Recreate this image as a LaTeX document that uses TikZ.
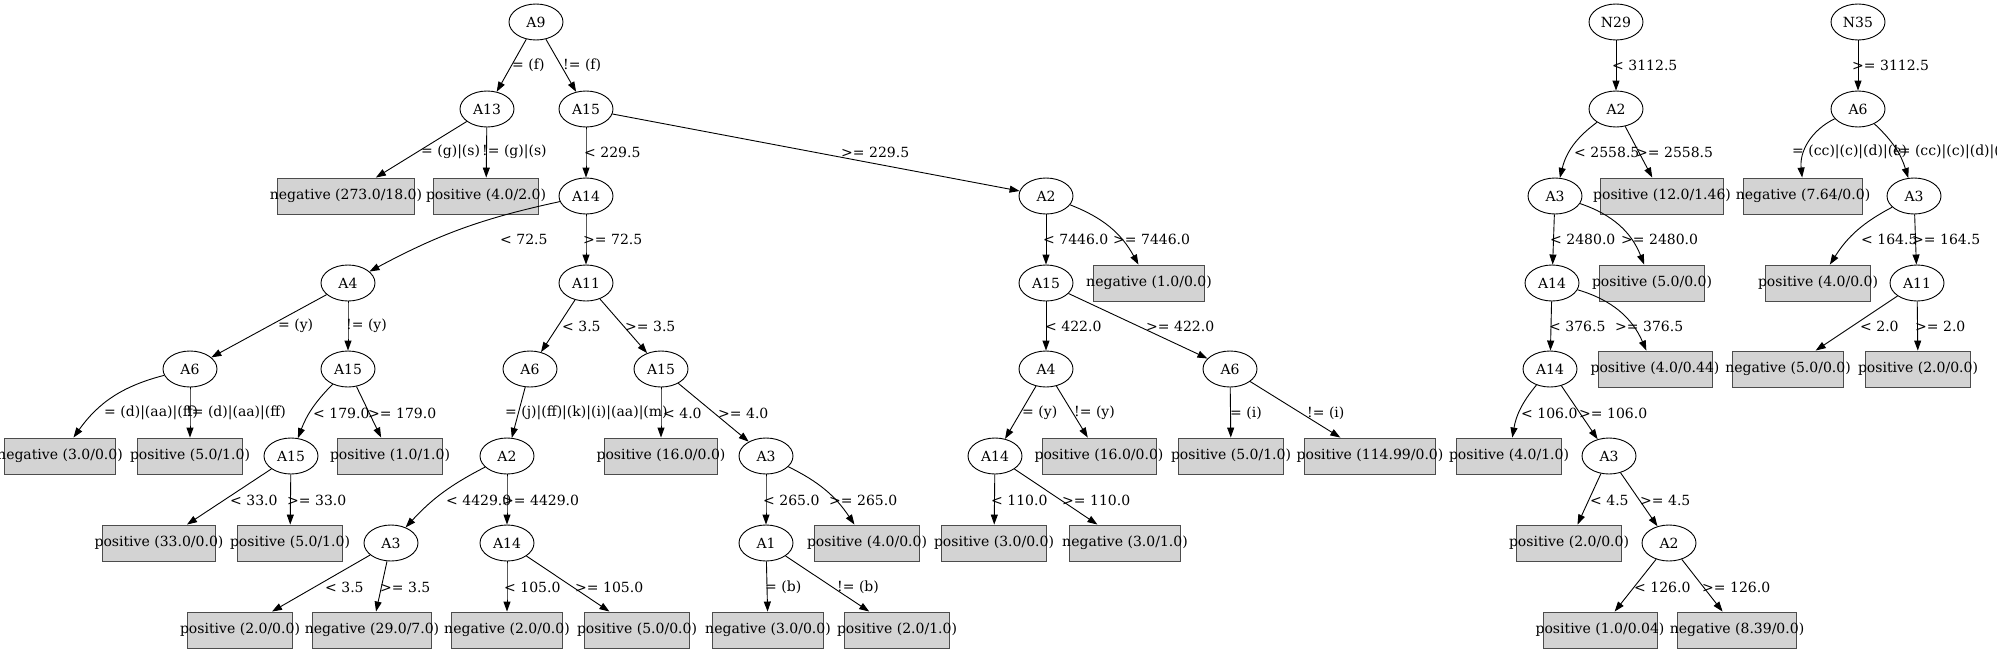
\documentclass[tikz,border=0pt]{standalone}
\usepackage{fontspec}
\setmainfont{DejaVu Serif}
\usetikzlibrary{shapes.geometric,arrows.meta}
\definecolor{lgray}{HTML}{D3D3D3}

\begin{document}
\begin{tikzpicture}[x=1pt,y=-1pt,font=\fontsize{14}{17}\selectfont,
  attr/.style={ellipse,draw,line width=0.9pt,fill=white,minimum width=54pt,minimum height=36pt,inner sep=0pt},
  leaf/.style={rectangle,draw=black!70,line width=0.9pt,fill=lgray,minimum height=36pt,inner ysep=0pt,inner xsep=-7.5pt},
  cond/.style={anchor=west,inner sep=0pt},
  edge/.style={line width=0.9pt,-{Triangle[length=10pt,width=7pt]}}]

  \useasboundingbox (0,0) rectangle (1997,653);
  \clip (0,0) rectangle (1997,653);

  %% Attribute tests
  \foreach \n/\x/\y/\txt in {
    a9/536/22/A9, a13/487/109/A13, a15/586/109/A15,
    a14/586/196/A14, b2/1046/196/A2,
    a4/348/283/A4, a11/586/283/A11, b15/1046/283/A15,
    c6/190/369/A6, c15/348/369/A15, d6/530/369/A6, d15/661/369/A15, e4/1046/369/A4, e6/1230/369/A6,
    f15/291/456/A15, f2/507/456/A2, f3/766/456/A3, g14/995/456/A14,
    h3/391/543/A3, h14/507/543/A14, h1/766/543/A1,
    n29/1616/22/N29, p2/1616/109/A2, p3/1555/196/A3, p14/1552/283/A14,
    q14/1550/369/A14, q3/1609/456/A3, q2/1669/543/A2,
    n35/1858/22/N35, s6/1858/109/A6, s3/1914/196/A3, s11/1917/283/A11}
  {
    \node[attr] (\n) at (\x,\y) {\txt};
  }

  %% Leaves
  \foreach \n/\x/\y/\txt in {
    l1/346/196/{negative (273.0/18.0)}, l2/486/196/{positive (4.0/2.0)},
    l22/1662/196/{positive (12.0/1.46)}, l29/1803/196/{negative (7.64/0.0)},
    l3/1149/283/{negative (1.0/0.0)}, l23/1652/283/{positive (5.0/0.0)}, l30/1818/283/{positive (4.0/0.0)},
    l24/1655/369/{positive (4.0/0.44)}, l31/1788/369/{negative (5.0/0.0)}, l32/1918/369/{positive (2.0/0.0)},
    l4/60/456/{negative (3.0/0.0)}, l5/190/456/{positive (5.0/1.0)}, l6/390/456/{positive (1.0/1.0)},
    l7/661/456/{positive (16.0/0.0)}, l8/1099/456/{positive (16.0/0.0)}, l9/1231/456/{positive (5.0/1.0)},
    l10/1370/456/{positive (114.99/0.0)}, l25/1509/456/{positive (4.0/1.0)},
    l11/159/543/{positive (33.0/0.0)}, l12/290/543/{positive (5.0/1.0)}, l13/867/543/{positive (4.0/0.0)},
    l14/994/543/{positive (3.0/0.0)}, l15/1125/543/{negative (3.0/1.0)}, l26/1569/543/{positive (2.0/0.0)},
    l16/240/630/{positive (2.0/0.0)}, l17/372/630/{negative (29.0/7.0)}, l18/507/630/{negative (2.0/0.0)},
    l19/637/630/{positive (5.0/0.0)}, l20/768/630/{negative (3.0/0.0)}, l21/897/630/{positive (2.0/1.0)},
    l27/1600/630/{positive (1.0/0.04)}, l28/1737/630/{negative (8.39/0.0)}}
  {
    \node[leaf] (\n) at (\x,\y) {\txt};
  }

  %% Branches: from/to/bend/label x/label y/condition
  \foreach \na/\nb/\bd/\lx/\ly/\tx in {
    a9/a13/0/512/65/{= (f)}, a9/a15/0/563/65/{!= (f)},
    a13/l1/0/421/152/{= (g)|(s)}, a13/l2/0/482/152/{!= (g)|(s)},
    a15/a14/0/584/152/{< 229.5}, a15/b2/0/841/152/{>= 229.5},
    a14/a4/-8/500/239/{< 72.5}, a14/a11/0/583/239/{>= 72.5},
    b2/b15/0/1043/239/{< 7446.0}, b2/l3/20/1113/239/{>= 7446.0},
    a4/c6/0/278/326/{= (y)}, a4/c15/0/346/326/{!= (y)},
    a11/d6/0/562/326/{< 3.5}, a11/d15/0/625/326/{>= 3.5},
    b15/e4/0/1045/326/{< 422.0}, b15/e6/0/1146/326/{>= 422.0},
    c6/l4/-20/104/413/{= (d)|(aa)|(ff)}, c6/l5/0/186/413/{!= (d)|(aa)|(ff)},
    c15/f15/-12/313/413/{< 179.0}, c15/l6/0/368/413/{>= 179.0},
    d6/f2/0/505/413/{= (j)|(ff)|(k)|(i)|(aa)|(m)},
    d15/l7/0/663/413/{< 4.0}, d15/f3/0/718/413/{>= 4.0},
    e4/g14/0/1022/413/{= (y)}, e4/l8/0/1074/413/{!= (y)},
    e6/l9/0/1230/413/{= (i)}, e6/l10/0/1307/413/{!= (i)},
    f15/l11/0/230/500/{< 33.0}, f15/l12/0/287/500/{>= 33.0},
    f2/h3/-10/446/500/{< 4429.0}, f2/h14/0/502/500/{>= 4429.0},
    f3/h1/0/763/500/{< 265.0}, f3/l13/15/829/500/{>= 265.0},
    g14/l14/0/991/500/{< 110.0}, g14/l15/0/1062/500/{>= 110.0},
    h3/l16/0/325/587/{< 3.5}, h3/l17/0/380/587/{>= 3.5},
    h14/l18/0/504/587/{< 105.0}, h14/l19/0/575/587/{>= 105.0},
    h1/l20/0/765/587/{= (b)}, h1/l21/0/837/587/{!= (b)},
    n29/p2/0/1612/65/{< 3112.5},
    p2/p3/-20/1574/152/{< 2558.5}, p2/l22/0/1636/152/{>= 2558.5},
    p3/p14/0/1550/239/{< 2480.0}, p3/l23/25/1621/239/{>= 2480.0},
    p14/q14/0/1549/326/{< 376.5}, p14/l24/25/1615/326/{>= 376.5},
    q14/l25/-15/1521/413/{< 106.0}, q14/q3/0/1579/413/{>= 106.0},
    q3/l26/0/1590/500/{< 4.5}, q3/q2/0/1640/500/{>= 4.5},
    q2/l27/0/1634/587/{< 126.0}, q2/l28/0/1702/587/{>= 126.0},
    n35/s6/0/1852/65/{>= 3112.5},
    s6/l29/-35/1792/152/{= (cc)|(c)|(d)|(e)}, s6/s3/15/1893/152/{!= (cc)|(c)|(d)|(e)},
    s3/l30/-15/1861/239/{< 164.5}, s3/s11/0/1912/239/{>= 164.5},
    s11/l31/0/1860/326/{< 2.0}, s11/l32/0/1915/326/{>= 2.0}}
  {
    \draw[edge] (\na) to[bend left=\bd] (\nb);
    \node[cond] (\na-\nb) at (\lx,\ly) {\tx};
  }

\end{tikzpicture}
\end{document}
